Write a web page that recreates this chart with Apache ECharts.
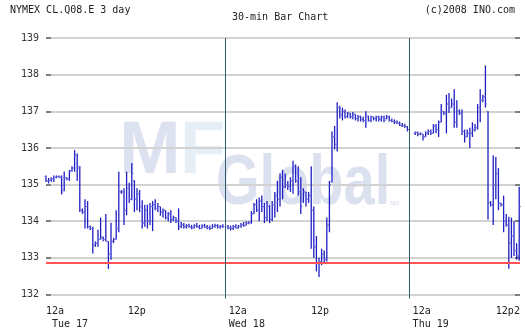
<!DOCTYPE html>
<html>
<head>
<meta charset="utf-8">
<script src="https://cdn.jsdelivr.net/npm/echarts@6/dist/echarts.min.js"></script>
<style>
html,body{margin:0;padding:0;background:#fff;}
#chart{width:525px;height:333px;}
</style>
</head>
<body>
<div id="chart"></div>
<script>
// 30-min bars, index = bar slot
const high = [
135.25,135.18,135.2,135.25,135.25,135.25,135.25,135.36,135.2,135.4,
135.5,135.94,135.85,135.5,134.35,134.6,134.55,133.88,133.85,133.45,
133.77,134.1,133.58,134.2,133.45,133.96,133.55,134.3,135.35,134.85,
134.9,135.35,135.05,135.59,135.12,134.9,134.85,134.57,134.45,134.45,
134.5,134.55,134.6,134.5,134.4,134.35,134.3,134.25,134.3,134.15,
134.1,134.35,133.98,133.95,133.92,133.93,133.9,133.92,133.95,133.9,
133.92,133.93,133.9,133.88,133.92,133.93,133.92,133.9,133.92,null,
133.9,133.88,133.9,133.92,133.9,133.95,133.98,134.0,134.0,134.28,
134.5,134.6,134.65,134.7,134.5,134.55,134.45,134.55,134.8,135.1,
135.3,135.4,135.3,135.1,135.2,135.65,135.55,135.5,135.2,134.9,
134.8,134.8,135.5,134.4,133.6,133.0,133.25,133.2,134.1,135.1,
136.45,136.6,137.25,137.15,137.1,137.05,136.98,136.95,136.98,136.92,
136.9,136.88,136.85,137.0,136.88,136.88,136.85,136.88,136.88,136.88,
136.88,136.9,136.88,136.8,136.78,136.75,136.72,136.68,136.66,136.6,
null,null,136.45,136.45,136.42,136.38,136.45,136.5,136.5,136.65,
136.65,136.75,137.2,137.0,137.45,137.5,137.35,137.6,137.3,137.05,
137.05,136.5,136.5,136.55,136.7,136.65,137.2,137.6,137.45,138.25,
137.0,134.55,135.8,135.75,135.45,134.5,134.7,134.2,134.12,134.1,
134.0,133.4,134.94
];
const low = [
135.07,135.03,135.08,135.07,135.17,135.18,134.73,134.82,135.12,135.1,
135.35,135.35,135.1,134.25,134.2,133.8,133.8,133.76,133.12,133.3,
133.3,133.5,133.45,133.45,132.7,132.95,133.4,133.5,133.7,134.75,
133.9,134.16,134.5,134.57,134.25,134.3,134.25,133.8,133.85,133.8,
133.9,133.73,134.3,134.25,134.15,134.1,134.05,134.0,133.95,134.0,
133.95,133.76,133.81,133.8,133.8,133.82,133.78,133.8,133.82,133.78,
133.8,133.82,133.78,133.76,133.8,133.82,133.8,133.8,133.82,null,
133.78,133.75,133.76,133.8,133.8,133.82,133.85,133.88,133.92,133.93,
134.2,134.25,134.0,134.25,133.95,134.0,133.95,134.0,134.1,134.25,
134.4,134.6,134.9,134.85,134.8,134.75,135.05,134.7,134.2,134.5,
134.4,134.5,133.25,133.0,132.63,132.48,132.8,132.85,132.9,133.7,
135.05,135.96,135.9,136.8,136.75,136.8,136.82,136.8,136.78,136.75,
136.72,136.72,136.7,136.55,136.72,136.7,136.75,136.72,136.72,136.72,
136.7,136.78,136.72,136.7,136.65,136.65,136.6,136.57,136.55,136.45,
null,null,136.35,136.32,136.35,136.2,136.3,136.35,136.35,136.4,
136.4,136.3,136.7,136.9,136.4,136.95,137.1,136.55,136.55,136.9,
136.35,136.15,136.3,136.0,136.3,136.45,136.5,136.7,137.25,137.1,
134.05,134.4,133.9,134.6,134.3,134.4,133.7,133.85,132.7,133.0,
133.05,132.95,132.92
];
const open = [
135.22,135.1,135.12,135.15,135.2,135.22,135.2,134.85,135.18,135.15,
135.38,135.45,135.8,135.45,134.3,134.25,134.4,133.85,133.8,133.35,
133.4,133.5,133.55,133.5,133.45,133.1,133.45,133.5,133.8,134.8,
134.8,134.3,134.9,134.6,135.1,134.6,134.75,134.4,133.95,134.3,
134.0,134.4,134.45,134.35,134.4,134.25,134.3,134.1,134.2,134.05,
134.1,134.0,133.85,133.9,133.85,133.88,133.85,133.82,133.88,133.85,
133.8,133.88,133.84,133.82,133.8,133.86,133.88,133.84,133.86,null,
133.85,133.82,133.8,133.85,133.82,133.86,133.9,133.88,133.95,133.97,
134.2,134.45,134.3,134.55,134.4,134.1,134.4,134.05,134.45,134.7,
134.6,135.2,134.95,135.0,134.95,135.1,135.5,135.1,134.8,134.55,
134.8,134.6,134.7,134.3,133.3,132.85,132.9,133.1,132.95,133.9,
135.1,136.3,136.1,137.1,136.9,137.0,136.85,136.95,136.85,136.92,
136.8,136.85,136.78,136.75,136.85,136.75,136.85,136.8,136.85,136.78,
136.85,136.8,136.85,136.75,136.72,136.7,136.68,136.62,136.6,136.58,
null,null,136.4,136.42,136.38,136.38,136.3,136.4,136.45,136.4,
136.6,136.5,136.7,137.0,136.95,137.2,137.1,137.2,136.7,137.0,
136.95,136.45,136.3,136.4,136.4,136.5,136.55,137.1,137.3,137.4,
137.0,134.5,134.45,135.0,135.3,134.5,134.45,134.0,133.9,133.4,
133.6,133.2,133.05
];
const close = [
135.1,135.12,135.15,135.2,135.22,135.2,134.8,135.2,135.15,135.35,
135.45,135.8,135.5,134.3,134.25,134.4,133.85,133.8,133.35,133.4,
133.5,133.55,133.5,133.45,133.1,133.45,133.5,133.8,134.8,134.8,
134.3,134.9,134.6,135.3,134.6,134.75,134.4,133.95,134.3,134.0,
134.4,134.45,134.35,134.4,134.25,134.3,134.1,134.2,134.05,134.1,
134.0,133.85,133.9,133.85,133.88,133.85,133.82,133.88,133.85,133.8,
133.88,133.84,133.82,133.8,133.86,133.88,133.84,133.86,133.85,null,
133.82,133.8,133.85,133.82,133.86,133.9,133.88,133.95,133.97,134.2,
134.45,134.3,134.55,134.4,134.1,134.4,134.05,134.45,134.7,134.6,
135.2,134.95,135.0,134.95,135.1,135.5,135.1,134.8,134.4,134.8,
134.6,134.7,134.3,133.3,132.85,132.9,133.1,132.95,133.9,135.0,
136.3,136.1,137.1,136.9,137.0,136.85,136.95,136.85,136.92,136.8,
136.85,136.78,136.75,136.9,136.75,136.85,136.8,136.85,136.78,136.85,
136.75,136.85,136.75,136.72,136.7,136.68,136.62,136.6,136.58,136.5,
null,null,136.42,136.38,136.4,136.3,136.4,136.45,136.4,136.6,
136.5,136.7,137.0,136.95,137.2,137.1,137.2,136.7,137.0,136.95,
136.45,136.3,136.4,136.4,136.5,136.55,137.1,137.3,137.4,137.2,
134.5,134.45,135.0,135.3,134.5,134.45,134.0,133.9,133.4,133.6,
133.2,133.05,134.4
];
// x-axis tick labels (positions in bar slots)
const tickPos = [0, 31.4, 70.3, 101.9, 141.0, 173.0];
const tickText = ['12a\n Tue 17', '12p', '12a\nWed 18', '12p', '12a\nThu 19', '12p2'];
const dayLines = [69.12, 139.88];
const refLevel = 132.88;

const bars = [];
for (let i = 0; i < high.length; i++) {
  if (high[i] == null) continue;
  bars.push([i, open[i], close[i], low[i], high[i]]);
}

const chart = echarts.init(document.getElementById('chart'));
const mono = 'DejaVu Sans Mono';
chart.setOption({
  animation: false,
  backgroundColor: '#fff',
  title: [
    {text: 'NYMEX CL.Q08.E 3 day', left: 10, top: 5, padding: 0,
     textStyle: {fontFamily: mono, fontSize: 10, fontWeight: 'normal', color: '#222'}},
    {text: '30-min Bar Chart', left: 232, top: 12, padding: 0,
     textStyle: {fontFamily: mono, fontSize: 10, fontWeight: 'normal', color: '#222'}},
    {text: '(c)2008 INO.com', right: 10, top: 5, padding: 0,
     textStyle: {fontFamily: mono, fontSize: 10, fontWeight: 'normal', color: '#222'}}
  ],
  graphic: {
    elements: [
      {type: 'text', left: 119, top: 116, z: -10, silent: true,
       style: {text: 'M', font: 'bold 74px "Liberation Sans"', fill: '#dde2f0'}},
      {type: 'text', left: 180, top: 116, z: -10, silent: true,
       style: {text: 'F', font: 'bold 74px "Liberation Sans"', fill: '#e6eef6'}},
      {type: 'text', left: 216, top: 150, z: -10, silent: true, scaleX: 0.8,
       style: {text: 'Global', font: 'bold 70px "Liberation Sans"', fill: '#dce1ef'}},
      {type: 'text', left: 390, top: 200, z: -10, silent: true,
       style: {text: 'SM', font: '6px "Liberation Sans"', fill: '#d6dbe9'}}
    ]
  },
  grid: {left: 46, right: 5, top: 38, height: 256.5},
  xAxis: {
    type: 'value', min: 0, max: 182.3,
    axisLine: {show: false},
    splitLine: {show: false},
    axisTick: {show: true, customValues: dayLines, length: 4, lineStyle: {color: '#2e5c77', width: 1}},
    axisLabel: {
      customValues: tickPos, align: 'left', margin: 10, lineHeight: 13,
      fontFamily: mono, fontSize: 10, color: '#222',
      formatter: function (v) {
        for (let k = 0; k < tickPos.length; k++) if (Math.abs(tickPos[k] - v) < 0.01) return tickText[k];
        return '';
      }
    }
  },
  yAxis: [
    {type: 'value', min: 132, max: 139, interval: 1, position: 'left',
     axisLine: {show: false},
     axisTick: {show: true, inside: true, length: 5, lineStyle: {color: '#666', width: 1.5}},
     axisLabel: {margin: 7, fontFamily: mono, fontSize: 10, color: '#333'},
     splitLine: {show: true, lineStyle: {color: '#d2d2d2', width: 2}}},
    {type: 'value', min: 132, max: 139, interval: 1, position: 'right',
     axisLine: {show: false},
     axisTick: {show: true, inside: true, length: 5, lineStyle: {color: '#666', width: 1.5}},
     axisLabel: {show: false},
     splitLine: {show: false}}
  ],
  series: [{
    type: 'custom',
    yAxisIndex: 0,
    data: bars,
    encode: {x: 0, y: [1, 2, 3, 4]},
    renderItem: function (params, api) {
      const x = api.coord([api.value(0), 0])[0];
      const yO = api.coord([0, api.value(1)])[1];
      const yC = api.coord([0, api.value(2)])[1];
      const yL = api.coord([0, api.value(3)])[1];
      const yH = api.coord([0, api.value(4)])[1];
      return {type: 'group', children: [
        {type: 'line', shape: {x1: x, y1: yH, x2: x, y2: yL}, style: {stroke: '#1e1ec4', lineWidth: 1.3}},
        {type: 'line', shape: {x1: x - 1.6, y1: yO, x2: x, y2: yO}, style: {stroke: '#6a6ad8', lineWidth: 1}},
        {type: 'line', shape: {x1: x, y1: yC, x2: x + 1.6, y2: yC}, style: {stroke: '#6a6ad8', lineWidth: 1}}
      ]};
    },
    markLine: {
      silent: true, symbol: 'none', label: {show: false},
      data: [
        {yAxis: refLevel, lineStyle: {color: '#ff5252', width: 2.2, type: 'solid'}},
        {xAxis: dayLines[0], lineStyle: {color: '#2e5c77', width: 1, type: 'solid'}},
        {xAxis: dayLines[1], lineStyle: {color: '#2e5c77', width: 1, type: 'solid'}}
      ]
    }
  }]
});
</script>
</body>
</html>
